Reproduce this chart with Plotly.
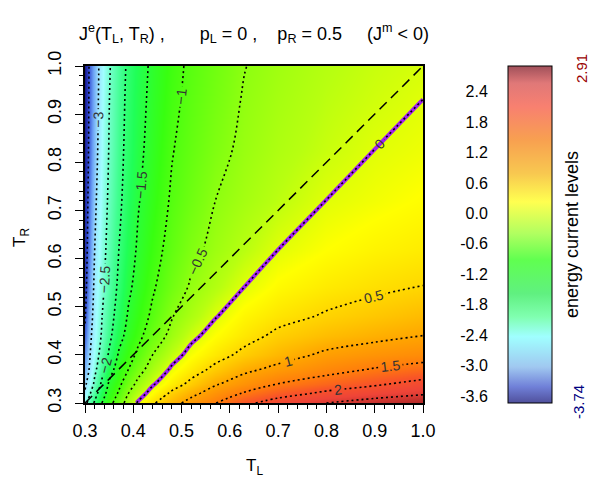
import plotly.graph_objects as go

# grille : T_L en colonnes, T_R en lignes
t_gauche = [0.30, 0.31, 0.32, 0.335, 0.35, 0.37, 0.39, 0.41, 0.44, 0.48,
            0.52, 0.57, 0.63, 0.70, 0.80, 0.90, 1.00]
t_droite = [0.30, 0.32, 0.34, 0.37, 0.40, 0.44, 0.48, 0.54, 0.617, 0.72,
            0.824, 0.9265, 1.00]

# courant d'énergie J^e(T_L, T_R), une ligne par valeur de T_R
courant = [
    [-2.65, -2.29, -1.94, -1.50, -1.17, -0.73, -0.31, 0.05, 0.44, 0.84, 1.16, 1.49, 1.90, 2.20, 2.50, 2.72, 2.91],
    [-2.95, -2.54, -2.20, -1.70, -1.33, -0.95, -0.50, -0.21, 0.17, 0.58, 0.88, 1.21, 1.54, 1.81, 2.09, 2.26, 2.43],
    [-3.08, -2.79, -2.41, -1.92, -1.44, -1.11, -0.72, -0.39, -0.05, 0.30, 0.60, 0.95, 1.22, 1.50, 1.72, 1.93, 2.14],
    [-3.22, -2.96, -2.61, -2.17, -1.70, -1.29, -1.00, -0.67, -0.31, 0.06, 0.31, 0.60, 0.90, 1.11, 1.34, 1.53, 1.67],
    [-3.33, -3.02, -2.73, -2.33, -1.94, -1.45, -1.18, -0.91, -0.50, -0.15, 0.12, 0.35, 0.60, 0.82, 1.08, 1.21, 1.31],
    [-3.45, -3.09, -2.82, -2.46, -2.12, -1.66, -1.35, -1.12, -0.76, -0.38, -0.09, 0.15, 0.36, 0.58, 0.76, 0.89, 1.00],
    [-3.53, -3.17, -2.87, -2.51, -2.20, -1.80, -1.45, -1.23, -0.92, -0.52, -0.29, -0.02, 0.22, 0.38, 0.54, 0.66, 0.78],
    [-3.60, -3.27, -2.93, -2.59, -2.29, -1.92, -1.58, -1.35, -1.05, -0.72, -0.45, -0.24, 0.003, 0.19, 0.33, 0.43, 0.51],
    [-3.64, -3.34, -3.00, -2.66, -2.36, -2.00, -1.70, -1.44, -1.16, -0.85, -0.60, -0.39, -0.20, 0.003, 0.15, 0.25, 0.32],
    [-3.68, -3.38, -3.08, -2.73, -2.43, -2.09, -1.80, -1.53, -1.26, -0.95, -0.74, -0.50, -0.34, -0.18, 0.003, 0.09, 0.17],
    [-3.71, -3.42, -3.15, -2.79, -2.48, -2.14, -1.86, -1.61, -1.33, -1.02, -0.83, -0.61, -0.42, -0.27, -0.12, 0.003, 0.07],
    [-3.73, -3.44, -3.18, -2.83, -2.51, -2.18, -1.89, -1.66, -1.38, -1.09, -0.89, -0.69, -0.47, -0.33, -0.18, -0.08, 0.003],
    [-3.74, -3.45, -3.20, -2.85, -2.54, -2.21, -1.92, -1.70, -1.41, -1.13, -0.92, -0.73, -0.51, -0.37, -0.22, -0.12, -0.05],
]

j_min, j_max = -3.74, 2.91
diagonale = [0.3, 1.0]
graduations_barre = [-3.6, -3.0, -2.4, -1.8, -1.2, -0.6, 0.0, 0.6, 1.2, 1.8, 2.4]

# couleurs de la carte (valeur -> couleur)
valeurs_carte = [-3.74, -3.55, -3.30, -3.05, -2.80, -2.50, -2.15, -1.75, -1.20,
                 -0.60, -0.20, 0.15, 0.55, 1.00, 1.50, 1.90, 2.30, 2.91]
couleurs_carte = ['#1a1a8e', '#3048d0', '#6aa0f4', '#9ce0ff', '#a0ffff', '#70ffc8',
                  '#40ff90', '#20ff58', '#38ff10', '#80ff10', '#b8ff10', '#ffff00',
                  '#ffd200', '#ffa400', '#ff7c0c', '#f85428', '#ee4438', '#b02828']
# la barre de couleur est plus pâle
valeurs_barre = [-3.74, -3.42, -3.03, -2.43, -2.04, -1.58, -0.92, -0.40, 0.23,
                 0.79, 1.45, 2.11, 2.57, 2.91]
couleurs_barre = ['#50509c', '#7080d8', '#a0c8f0', '#a0ffff', '#80ffb0', '#60f080',
                  '#60ff50', '#b0ff60', '#ffff50', '#f8c850', '#f8a050', '#f88070',
                  '#e07878', '#a0505a']


def echelle(valeurs, couleurs):
    return [[(v - j_min) / (j_max - j_min), c] for v, c in zip(valeurs, couleurs)]


police = 'Liberation Sans, Arial, sans-serif'
nbsp = '\u00a0'

fig = go.Figure()

# fond dégradé
fig.add_trace(go.Contour(
    x=t_gauche, y=t_droite, z=courant,
    colorscale=echelle(valeurs_carte, couleurs_carte), zmin=j_min, zmax=j_max,
    contours=dict(coloring='heatmap', showlines=False),
    line=dict(width=0), showscale=False, hoverinfo='skip'))

# ligne J = 0 en violet
fig.add_trace(go.Contour(
    x=t_gauche, y=t_droite, z=courant, autocontour=False,
    contours=dict(start=0, end=0, size=1, coloring='none'),
    line=dict(color='#a020f0', width=4), showscale=False, hoverinfo='skip'))

# lignes de niveau pointillées
fig.add_trace(go.Contour(
    x=t_gauche, y=t_droite, z=courant, autocontour=False,
    contours=dict(start=-3.5, end=2.5, size=0.5, coloring='none', showlabels=True,
                  labelfont=dict(size=14, color='#333333', family=police)),
    line=dict(color='black', width=1.6, dash='2px,3px'),
    showscale=False, hoverinfo='skip'))

# diagonale T_L = T_R
fig.add_trace(go.Scatter(x=diagonale, y=diagonale, mode='lines',
                         line=dict(color='black', width=1.5, dash='10px,6px'),
                         showlegend=False, hoverinfo='skip'))

# barre de couleur seule
fig.add_trace(go.Scatter(
    x=[None], y=[None], yaxis='y2', mode='markers', showlegend=False,
    marker=dict(color=[j_min], cmin=j_min, cmax=j_max,
                colorscale=echelle(valeurs_barre, couleurs_barre), showscale=True,
                colorbar=dict(x=0.8905, xanchor='left', thickness=44, len=1,
                              y=0.5, yanchor='middle', xpad=0, ypad=0,
                              outlinecolor='black', outlinewidth=1,
                              showticklabels=False, ticks=''))))

axe = dict(range=[0.3, 1.0], tick0=0.3, dtick=0.1, tickformat='.1f',
           ticks='outside', ticklen=8, tickcolor='black',
           minor=dict(dtick=0.02, ticks='outside', ticklen=4, tickcolor='black'),
           showline=True, linecolor='black', linewidth=1.5, mirror=True,
           showgrid=False, zeroline=False, tickfont=dict(size=18))

# la page ajoute une marge de 8 px : figure un peu plus petite que la fenêtre
fig.update_layout(
    width=592, height=472,
    margin=dict(l=77, r=40, t=58, b=77),
    paper_bgcolor='white', plot_bgcolor='white',
    font=dict(family=police, color='black'),
    showlegend=False,
    xaxis=dict(axe, domain=[0, 338 / 475], ticklabelstandoff=3),
    yaxis=dict(axe, tickangle=-90, ticklabelstandoff=7),
    yaxis2=dict(overlaying='y', anchor='free', position=0.8905, side='left',
                range=[j_min, j_max], tickvals=graduations_barre,
                ticktext=[f'{v:.1f}' for v in graduations_barre],
                ticks='outside', ticklen=17, tickcolor='rgba(0,0,0,0)',
                showline=False, showgrid=False, zeroline=False,
                tickfont=dict(size=16)),
    annotations=[
        dict(text='J<sup>e</sup>(T<sub>L</sub>, T<sub>R</sub>) ,' + nbsp * 7
             + 'p<sub>L</sub> = 0 ,' + nbsp * 4 + 'p<sub>R</sub> = 0.5' + nbsp * 5
             + '(J<sup>m</sup> &lt; 0)',
             x=0.3558, y=1.095, font=dict(size=18)),
        dict(text='T<sub>L</sub>', x=0.3558, y=-0.19, font=dict(size=17)),
        dict(text='T<sub>R</sub>', x=-0.1347, y=0.49, textangle=-90, font=dict(size=17)),
        dict(text='energy current levels', x=1.0253, y=0.4985, textangle=-90,
             font=dict(size=18)),
        dict(text='2.91', x=1.0442, y=0.994, textangle=-90,
             font=dict(size=15, color='#990000')),
        dict(text='-3.74', x=1.04, y=0.003, textangle=-90,
             font=dict(size=15, color='#000080')),
    ],
)
fig.update_annotations(xref='paper', yref='paper', showarrow=False,
                       xanchor='center', yanchor='middle')

fig.write_html('out.html')
